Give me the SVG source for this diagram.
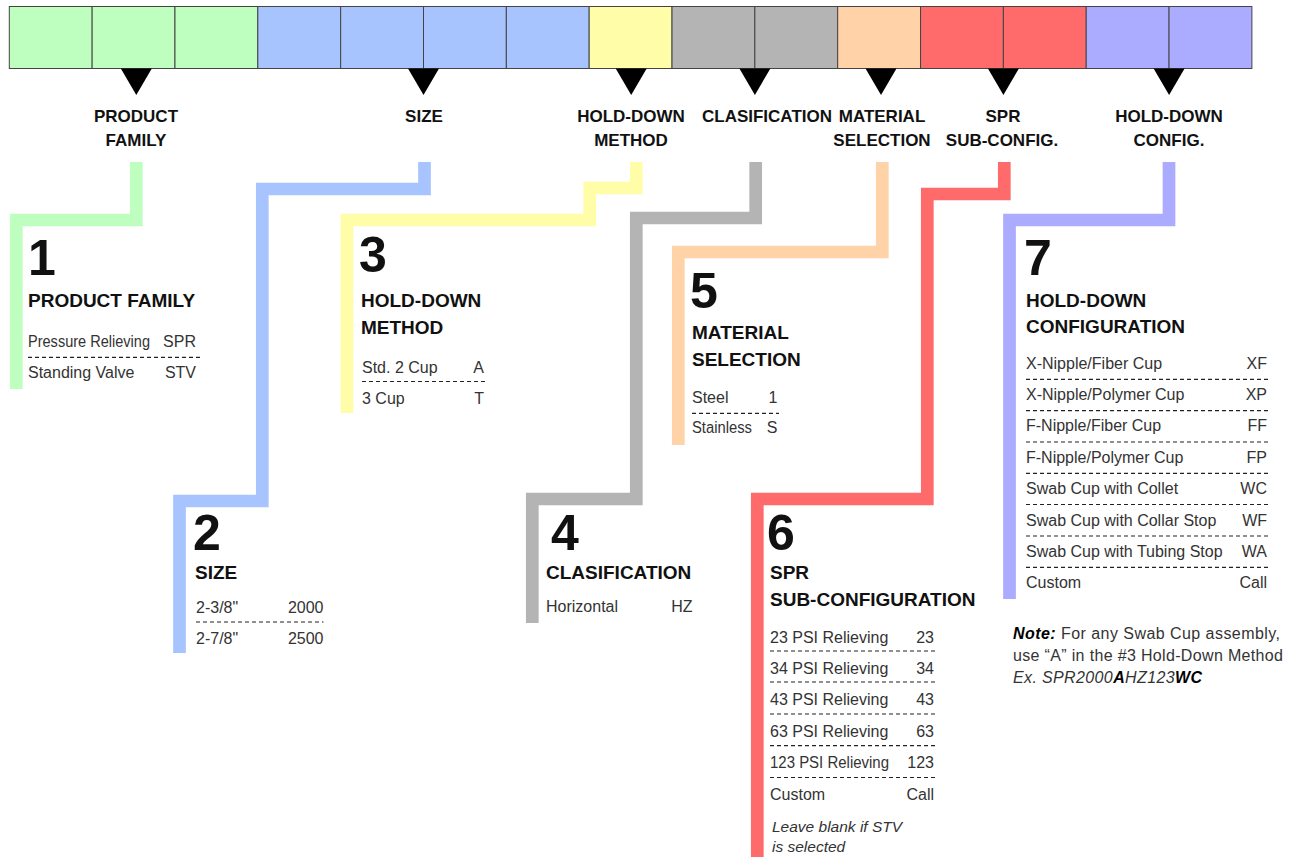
<svg xmlns="http://www.w3.org/2000/svg" width="1294" height="857" viewBox="0 0 1294 857">
<style>
text{font-family:"Liberation Sans",Arial,sans-serif;fill:#111}
.hdr{font-weight:bold;font-size:17px;text-anchor:middle}
.num{font-weight:bold;font-size:50px}
.ttl{font-weight:bold;font-size:19px}
.row{font-size:16px;fill:#333}
.val{text-anchor:end}
.it{font-style:italic;font-size:15.5px;fill:#333}
.note{font-size:16px;fill:#333}
.dash{stroke:#222;stroke-width:1.2;stroke-dasharray:4 3;fill:none}
.conn{fill:none;stroke-width:12.7;stroke-linejoin:miter;stroke-linecap:butt}
.cell{stroke:#444;stroke-width:1}
.tri{fill:#000}
.g{fill:#BEFFBF}.b{fill:#A8C4FF}.y{fill:#FFFDA8}.k{fill:#B4B4B4}.o{fill:#FFD2A8}.r{fill:#FF6B6B}.p{fill:#ABABFF}
</style>
<g id="code-bar">
<rect class="cell g" x="9.3" y="6.5" width="82.84" height="62"/>
<rect class="cell g" x="92.14" y="6.5" width="82.84" height="62"/>
<rect class="cell g" x="174.98" y="6.5" width="82.84" height="62"/>
<rect class="cell b" x="257.82" y="6.5" width="82.84" height="62"/>
<rect class="cell b" x="340.66" y="6.5" width="82.84" height="62"/>
<rect class="cell b" x="423.5" y="6.5" width="82.84" height="62"/>
<rect class="cell b" x="506.34" y="6.5" width="82.84" height="62"/>
<rect class="cell y" x="589.18" y="6.5" width="82.84" height="62"/>
<rect class="cell k" x="672.02" y="6.5" width="82.84" height="62"/>
<rect class="cell k" x="754.86" y="6.5" width="82.84" height="62"/>
<rect class="cell o" x="837.7" y="6.5" width="82.84" height="62"/>
<rect class="cell r" x="920.54" y="6.5" width="82.84" height="62"/>
<rect class="cell r" x="1003.38" y="6.5" width="82.84" height="62"/>
<rect class="cell p" x="1086.22" y="6.5" width="82.84" height="62"/>
<rect class="cell p" x="1169.06" y="6.5" width="82.84" height="62"/>
</g>
<g id="pointers">
<polygon class="tri" points="120.8,68.5 151.8,68.5 136.3,95"/>
<polygon class="tri" points="408,68.5 439,68.5 423.5,95"/>
<polygon class="tri" points="615.7,68.5 646.7,68.5 631.2,95"/>
<polygon class="tri" points="739.4,68.5 770.4,68.5 754.9,95"/>
<polygon class="tri" points="865.5,68.5 896.5,68.5 881,95"/>
<polygon class="tri" points="987.9,68.5 1018.9,68.5 1003.4,95"/>
<polygon class="tri" points="1153.6,68.5 1184.6,68.5 1169.1,95"/>
</g>
<g id="labels">
<text class="hdr" x="136" y="122">PRODUCT</text>
<text class="hdr" x="136" y="146">FAMILY</text>
<text class="hdr" x="424" y="122">SIZE</text>
<text class="hdr" x="631" y="122">HOLD-DOWN</text>
<text class="hdr" x="631" y="146">METHOD</text>
<text class="hdr" x="767" y="122">CLASIFICATION</text>
<text class="hdr" x="882" y="122">MATERIAL</text>
<text class="hdr" x="882" y="146">SELECTION</text>
<text class="hdr" x="1003" y="122">SPR</text>
<text class="hdr" x="1002" y="146">SUB-CONFIG.</text>
<text class="hdr" x="1169" y="122">HOLD-DOWN</text>
<text class="hdr" x="1169" y="146">CONFIG.</text>
</g>
<g id="connectors">
<polyline class="conn" stroke="#BEFFBF" points="136.3,162 136.3,220 16.3,220 16.3,389"/>
<polyline class="conn" stroke="#A8C4FF" points="424.5,162 424.5,189 262.3,189 262.3,501 179.5,501 179.5,653"/>
<polyline class="conn" stroke="#FFFDA8" points="636.3,162 636.3,188 589.7,188 589.7,220 347,220 347,413"/>
<polyline class="conn" stroke="#B4B4B4" points="755.7,162 755.7,218 636.3,218 636.3,499 532.3,499 532.3,623"/>
<polyline class="conn" stroke="#FFD2A8" points="882.3,162 882.3,252 678.3,252 678.3,445"/>
<polyline class="conn" stroke="#FF6B6B" points="1004.3,162 1004.3,194 927.3,194 927.3,499 757.3,499 757.3,857"/>
<polyline class="conn" stroke="#ABABFF" points="1169,162 1169,220 1009.5,220 1009.5,599"/>
</g>
<g id="sec1">
<text class="num" x="28" y="275">1</text>
<text class="ttl" x="28" y="306.5">PRODUCT FAMILY</text>
<text class="row" x="28" y="346.5" textLength="122" lengthAdjust="spacingAndGlyphs">Pressure Relieving</text><text class="row val" x="196" y="346.5">SPR</text>
<line class="dash" x1="28" y1="357.3" x2="202" y2="357.3"/>
<text class="row" x="28" y="378.3">Standing Valve</text><text class="row val" x="196" y="378.3">STV</text>
</g>
<g id="sec2">
<text class="num" x="193" y="550">2</text>
<text class="ttl" x="195" y="578.5">SIZE</text>
<text class="row" x="196" y="612.5">2-3/8"</text><text class="row val" x="323.5" y="612.5">2000</text>
<line class="dash" x1="196" y1="622" x2="323.5" y2="622"/>
<text class="row" x="196" y="644">2-7/8"</text><text class="row val" x="323.5" y="644">2500</text>
</g>
<g id="sec3">
<text class="num" x="359" y="272">3</text>
<text class="ttl" x="361" y="306.5">HOLD-DOWN</text>
<text class="ttl" x="361" y="334">METHOD</text>
<text class="row" x="362" y="372.5">Std. 2 Cup</text><text class="row val" x="484" y="372.5">A</text>
<line class="dash" x1="362" y1="381.5" x2="488" y2="381.5"/>
<text class="row" x="362" y="404">3 Cup</text><text class="row val" x="484" y="404">T</text>
</g>
<g id="sec4">
<text class="num" x="551" y="550">4</text>
<text class="ttl" x="546" y="579">CLASIFICATION</text>
<text class="row" x="546" y="612">Horizontal</text><text class="row val" x="692.5" y="612">HZ</text>
</g>
<g id="sec5">
<text class="num" x="690" y="307.5">5</text>
<text class="ttl" x="692" y="339">MATERIAL</text>
<text class="ttl" x="692" y="366">SELECTION</text>
<text class="row" x="692" y="402.5">Steel</text><text class="row val" x="777.5" y="402.5">1</text>
<line class="dash" x1="692" y1="413.3" x2="779" y2="413.3"/>
<text class="row" x="692" y="433.3" textLength="60" lengthAdjust="spacingAndGlyphs">Stainless</text><text class="row val" x="777.5" y="433.3">S</text>
</g>
<g id="sec6">
<text class="num" x="767" y="550">6</text>
<text class="ttl" x="770" y="579">SPR</text>
<text class="ttl" x="770" y="605.5">SUB-CONFIGURATION</text>
<text class="row" x="770" y="642.5">23 PSI Relieving</text><text class="row val" x="934" y="642.5">23</text>
<line class="dash" x1="770" y1="651" x2="936" y2="651"/>
<text class="row" x="770" y="674">34 PSI Relieving</text><text class="row val" x="934" y="674">34</text>
<line class="dash" x1="770" y1="682" x2="936" y2="682"/>
<text class="row" x="770" y="705.3">43 PSI Relieving</text><text class="row val" x="934" y="705.3">43</text>
<line class="dash" x1="770" y1="714" x2="936" y2="714"/>
<text class="row" x="770" y="736.8">63 PSI Relieving</text><text class="row val" x="934" y="736.8">63</text>
<line class="dash" x1="770" y1="745.7" x2="936" y2="745.7"/>
<text class="row" x="770" y="768.3" textLength="119" lengthAdjust="spacingAndGlyphs">123 PSI Relieving</text><text class="row val" x="934" y="768.3">123</text>
<line class="dash" x1="770" y1="777.5" x2="936" y2="777.5"/>
<text class="row" x="770" y="799.5">Custom</text><text class="row val" x="934" y="799.5">Call</text>
<text class="it" x="772" y="831.5">Leave blank if STV</text>
<text class="it" x="772" y="851.5">is selected</text>
</g>
<g id="sec7">
<text class="num" x="1024" y="275">7</text>
<text class="ttl" x="1026" y="306.5">HOLD-DOWN</text>
<text class="ttl" x="1026" y="333.3">CONFIGURATION</text>
<text class="row" x="1026" y="368.5">X-Nipple/Fiber Cup</text><text class="row val" x="1267" y="368.5">XF</text>
<line class="dash" x1="1026" y1="379.3" x2="1268" y2="379.3"/>
<text class="row" x="1026" y="400">X-Nipple/Polymer Cup</text><text class="row val" x="1267" y="400">XP</text>
<line class="dash" x1="1026" y1="410.7" x2="1268" y2="410.7"/>
<text class="row" x="1026" y="431.3">F-Nipple/Fiber Cup</text><text class="row val" x="1267" y="431.3">FF</text>
<line class="dash" x1="1026" y1="442" x2="1268" y2="442"/>
<text class="row" x="1026" y="462.7">F-Nipple/Polymer Cup</text><text class="row val" x="1267" y="462.7">FP</text>
<line class="dash" x1="1026" y1="473.3" x2="1268" y2="473.3"/>
<text class="row" x="1026" y="494.2">Swab Cup with Collet</text><text class="row val" x="1267" y="494.2">WC</text>
<line class="dash" x1="1026" y1="504.5" x2="1268" y2="504.5"/>
<text class="row" x="1026" y="525.5">Swab Cup with Collar Stop</text><text class="row val" x="1267" y="525.5">WF</text>
<line class="dash" x1="1026" y1="536" x2="1268" y2="536"/>
<text class="row" x="1026" y="557">Swab Cup with Tubing Stop</text><text class="row val" x="1267" y="557">WA</text>
<line class="dash" x1="1026" y1="567.3" x2="1268" y2="567.3"/>
<text class="row" x="1026" y="588.3">Custom</text><text class="row val" x="1267" y="588.3">Call</text>
</g>
<g id="note">
<text class="note" x="1013" y="639" textLength="267"><tspan font-weight="bold" font-style="italic" fill="#000">Note:</tspan> For any Swab Cup assembly,</text>
<text class="note" x="1013" y="661" textLength="270">use “A” in the #3 Hold-Down Method</text>
<text class="note" x="1013" y="683" font-style="italic" textLength="189">Ex. SPR2000<tspan font-weight="bold" fill="#000">A</tspan>HZ123<tspan font-weight="bold" fill="#000">WC</tspan></text>
</g>
</svg>
